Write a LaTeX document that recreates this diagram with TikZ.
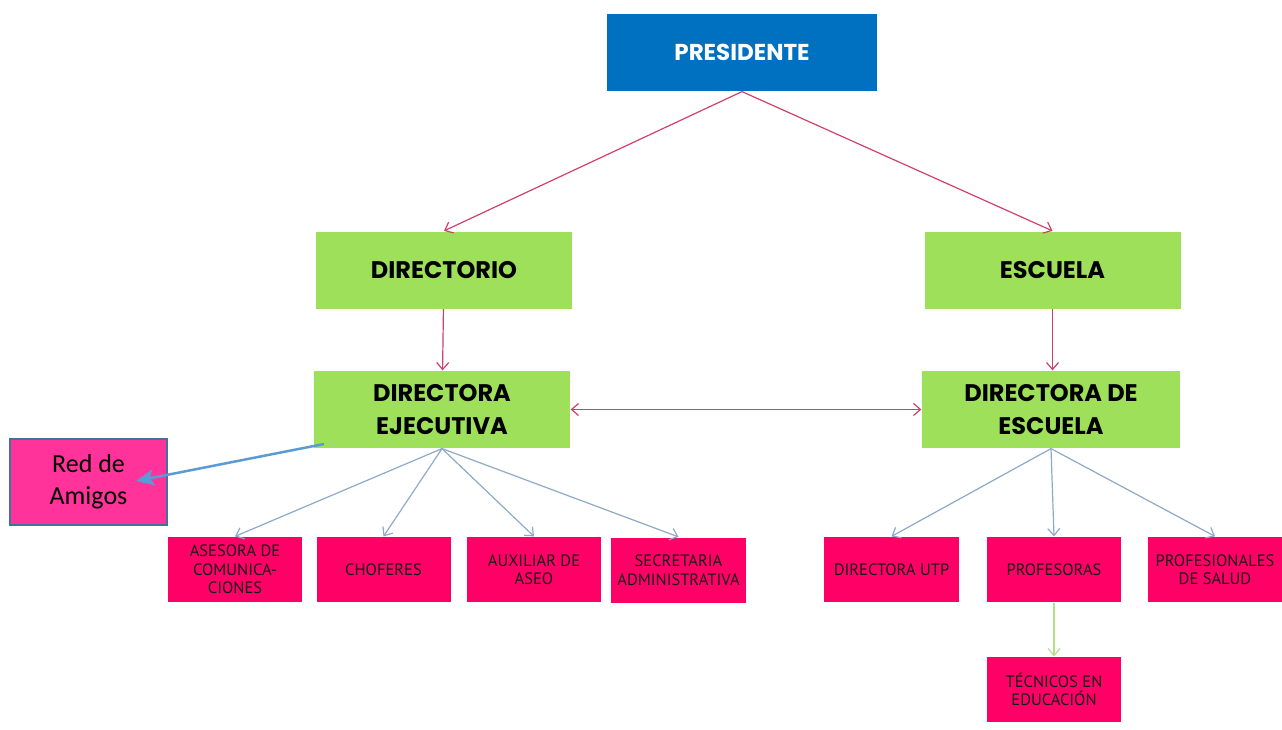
\documentclass[tikz,border=0pt]{standalone}
\usepackage{fontspec}
\setmainfont{Liberation Sans}
\newfontfamily\headfont{Poppins}
\newfontfamily\leaffont{PT Sans}
\newfontfamily\notefont{Carlito}
\usepackage{tikz}
\usetikzlibrary{arrows.meta}
\definecolor{presblue}{HTML}{0070C0}
\definecolor{boxgreen}{HTML}{9FE05A}
\definecolor{leafpink}{HTML}{FF0066}
\definecolor{notepink}{HTML}{FF3399}
\definecolor{noteedge}{HTML}{41719C}
\definecolor{linkred}{HTML}{D0406A}
\definecolor{linkgray}{HTML}{8EA9C8}
\definecolor{linkgreen}{HTML}{B5E08A}
\definecolor{linkblue}{HTML}{5B9BD5}
\tikzset{topbox/.style = {fill=presblue, text=white, inner sep=0, minimum width=270, minimum height=77, font=\headfont\bfseries\fontsize{23}{25}\selectfont},
  midbox/.style = {fill=boxgreen, inner sep=0, minimum width=256, minimum height=77, align=center, font=\headfont\bfseries\fontsize{24}{33}\selectfont},
  leafbox/.style = {fill=leafpink, text=black!90, inner sep=0, minimum width=134, minimum height=65, align=center, font=\leaffont\fontsize{16.5}{18.5}\selectfont}}
\begin{document}
\begin{tikzpicture}[x=1pt, y=-1pt, >={Straight Barb[length=7pt, width=12pt]}, line width=1.2]
    \useasboundingbox (0, 0) rectangle (1282, 730);

    \node [topbox] (pres) at (742, 52.5) {PRESIDENTE};

    \node [midbox] (dirio) at (444, 270) {DIRECTORIO};
    \node [midbox] (esc) at (1052.5, 270) {ESCUELA};
    \node [midbox] (dirEj) at (442, 409.5) {DIRECTORA\\EJECUTIVA};
    \node [midbox, minimum width=258] (dirEsc) at (1051, 409.5) {DIRECTORA DE\\ESCUELA};

    \node [fill=notepink, draw=noteedge, line width=2, inner sep=0, minimum width=157, minimum height=86, align=center, font=\notefont\fontsize{26}{32}\selectfont] (red) at (88.5, 481.5) {Red de\\Amigos};

    \node [leafbox] (ases) at (235, 569.5) {ASESORA DE\\COMUNICA-\\CIONES};
    \node [leafbox] (chof) at (383.5, 569.5) {CHOFERES};
    \node [leafbox] (aux) at (534, 569.5) {AUXILIAR DE\\ASEO};
    \node [leafbox, minimum width=135] (secr) at (678.5, 570) {SECRETARIA\\ADMINISTRATIVA};
    \node [leafbox, minimum width=135] (utp) at (891.5, 569.5) {DIRECTORA UTP};
    \node [leafbox] (prof) at (1054, 569.5) {PROFESORAS};
    \node [leafbox] (salud) at (1215, 569.5) {PROFESIONALES\\DE SALUD};
    \node [leafbox] (tec) at (1054, 689.5) {TÉCNICOS EN\\EDUCACIÓN};

    \coordinate (rstart) at (324, 444);
    \coordinate (rend) at (136, 481);

    \draw [linkred, ->] (pres.south) -- (dirio.north);
    \draw [linkred, ->] (pres.south) -- (esc.north);
    \draw [linkred, ->] (dirio) -- (dirEj);
    \draw [linkred, ->] (esc.south) -- (esc.south |- dirEsc.north);
    \draw [linkred, <->] (dirEj) -- (dirEsc);

    \draw [linkgray, ->] (dirEj.south) -- (ases.north);
    \draw [linkgray, ->] (dirEj.south) -- (chof.north);
    \draw [linkgray, ->] (dirEj.south) -- (aux.north);
    \draw [linkgray, ->] (dirEj.south) -- (secr.north);
    \draw [linkgray, ->] (dirEsc.south) -- (utp.north);
    \draw [linkgray, ->] (dirEsc.south) -- (prof.north);
    \draw [linkgray, ->] (dirEsc.south) -- (salud.north);

    \draw [linkgreen, ->] (prof) -- (tec);
    \draw [linkblue, line width=2.5, -{Stealth[length=18pt, width=16pt, inset=4pt]}] (rstart) -- (rend);
  \end{tikzpicture}
\end{document}
